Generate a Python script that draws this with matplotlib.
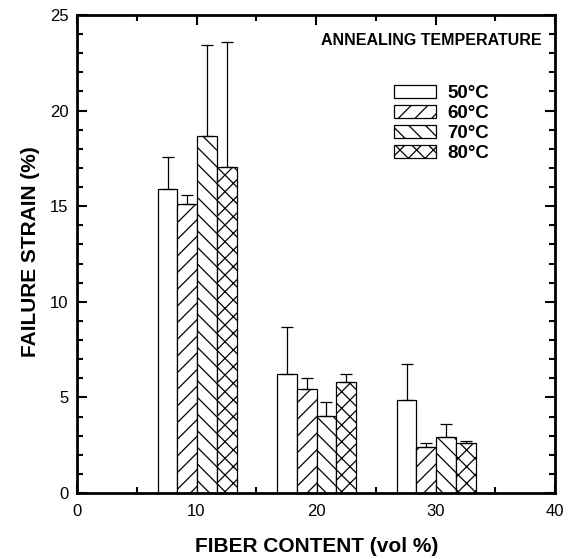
import numpy as np
import matplotlib
matplotlib.use("Agg")
import matplotlib.pyplot as plt
from matplotlib.patches import Patch

plt.rcParams['font.family'] = ['Liberation Sans', 'DejaVu Sans']
plt.rcParams['hatch.linewidth'] = 0.9
plt.rcParams['hatch.color'] = 'black'

# failure strain (%) vs fiber content, one series per annealing temperature
fiber = np.array([10, 20, 30])
temps = ['50°C', '60°C', '70°C', '80°C']
strain_50 = [15.9, 6.2, 4.86]
strain_60 = [15.1, 5.45, 2.41]
strain_70 = [18.65, 4.03, 2.91]
strain_80 = [17.05, 5.8, 2.6]
# upper error bar ends
upper_50 = [17.55, 8.67, 6.75]
upper_60 = [15.6, 6.0, 2.6]
upper_70 = [23.45, 4.78, 3.62]
upper_80 = [23.6, 6.2, 2.74]

strains = [strain_50, strain_60, strain_70, strain_80]
uppers = [upper_50, upper_60, upper_70, upper_80]
hatches = ['', '//', '\\\\', 'xx']

fig = plt.figure(figsize=(5.72, 5.59), dpi=100)
ax = fig.add_axes([77/572, 1 - 493/559, 478/572, 478/559])

w = 1.65
offsets = np.array([-1.5, -0.5, 0.5, 1.5]) * w
for i in range(4):
    x = fiber + offsets[i] + 0.05
    ax.bar(x, strains[i], width=w, facecolor='white', edgecolor='black',
           linewidth=0.9, hatch=hatches[i], zorder=2)
    err = np.array(uppers[i]) - np.array(strains[i])
    ax.errorbar(x, strains[i], yerr=[np.zeros(3), err], fmt='none',
                ecolor='black', elinewidth=0.9, capsize=4, capthick=0.9, zorder=3)

ax.set_xlim(0, 40)
ax.set_ylim(0, 25)
ax.set_xticks([0, 10, 20, 30, 40])
ax.set_xticks([5, 15, 25, 35], minor=True)
ax.set_yticks([0, 5, 10, 15, 20, 25])
ax.set_yticks(np.arange(0, 25, 1), minor=True)
ax.tick_params(which='both', direction='in', top=True, right=True, width=1.5,
               labelsize=12)
ax.tick_params(axis='x', pad=8)
ax.tick_params(axis='y', pad=6)
ax.tick_params(which='major', length=7)
ax.tick_params(which='minor', length=4.5)
for s in ax.spines.values():
    s.set_linewidth(2)

fig.text(317/572, 1 - 547/559, 'FIBER CONTENT (vol %)', ha='center', va='center',
         fontsize=15, fontweight='bold')
fig.text(31/572, 1 - 252/559, 'FAILURE STRAIN (%)', ha='center', va='center',
         rotation=90, fontsize=15, fontweight='bold')

ax.text(0.973, 0.946, 'ANNEALING TEMPERATURE', transform=ax.transAxes,
        ha='right', va='center', fontsize=11.5, fontweight='bold')

handles = [Patch(facecolor='white', edgecolor='black', linewidth=0.9, hatch=h)
           for h in hatches]
ax.legend(handles, temps, loc='upper left', bbox_to_anchor=(0.663, 0.853),
          frameon=False, borderpad=0, borderaxespad=0, handlelength=2.25,
          handleheight=0.7, handletextpad=0.58, labelspacing=0.14,
          prop={'size': 13.5, 'weight': 'bold'})

fig.savefig('out.png', dpi=100)
